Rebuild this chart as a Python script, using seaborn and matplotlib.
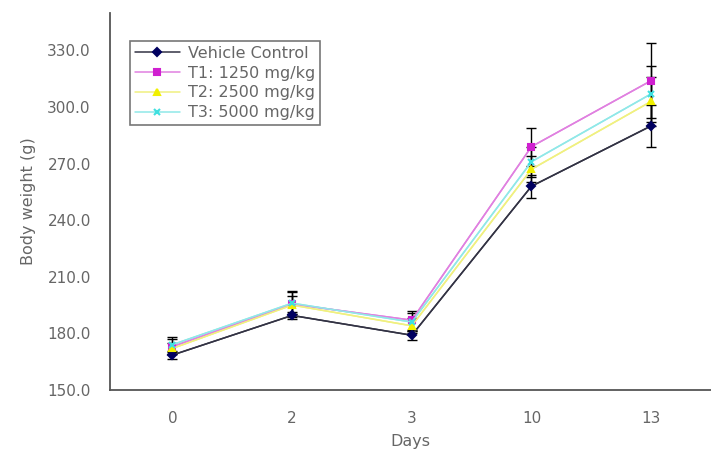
import numpy as np
import pandas as pd
import matplotlib
matplotlib.use("Agg")
import matplotlib.pyplot as plt
import seaborn as sns

# values
days = ["0", "2", "3", "10", "13"]
groups = ["Vehicle Control", "T1: 1250 mg/kg", "T2: 2500 mg/kg", "T3: 5000 mg/kg"]
vehicle = [168.5, 189.5, 179.0, 258.0, 290.0]
t1 = [173.0, 195.5, 187.0, 279.0, 314.0]
t2 = [172.0, 195.0, 184.0, 267.0, 303.0]
t3 = [174.0, 196.0, 186.0, 271.0, 307.0]
vehicle_sd = [2.0, 2.0, 2.5, 6.0, 11.0]
t1_sd = [4.0, 7.0, 5.0, 10.0, 20.0]
t2_sd = [3.0, 5.0, 4.0, 7.0, 13.0]
t3_sd = [4.0, 6.0, 5.0, 8.0, 15.0]

means = [vehicle, t1, t2, t3]
sds = [vehicle_sd, t1_sd, t2_sd, t3_sd]

rows = []
for g, m, s in zip(groups, means, sds):
    for i, d in enumerate(days):
        rows.append({"pos": i, "Days": d, "Group": g, "mean": m[i], "sd": s[i]})
df = pd.DataFrame(rows)

line_cols = {groups[0]: "#333344", groups[1]: "#e080e0", groups[2]: "#f0f080", groups[3]: "#90e8e8"}
mark_cols = {groups[0]: "#000060", groups[1]: "#d020d0", groups[2]: "#f0f000", groups[3]: "#40e0e0"}
markers = {groups[0]: "D", groups[1]: "s", groups[2]: "^", groups[3]: "x"}

sns.set_style("white")
plt.rcParams["font.family"] = ["DejaVu Sans"]

fig = plt.figure(figsize=(7.11, 4.55), dpi=100)
ax = fig.add_axes([0.155, 0.143, 0.845, 0.829])

# error bars first so lines sit on top
for g in groups[::-1]:
    sub = df[df["Group"] == g]
    ax.errorbar(sub["pos"], sub["mean"], yerr=sub["sd"], fmt="none",
                ecolor="black", elinewidth=1, capsize=3.5, zorder=2)

sns.lineplot(data=df, x="pos", y="mean", hue="Group",
             hue_order=groups, palette=line_cols,
             dashes=False, linewidth=1.1, ax=ax, zorder=3, legend=False)
for g in groups:
    sub = df[df["Group"] == g]
    ax.plot(sub["pos"], sub["mean"], color=line_cols[g], lw=1.1, marker=markers[g],
            ms=4.5, mfc=mark_cols[g], mec=mark_cols[g], mew=1.5, label=g, zorder=4)

ax.set_xlim(-0.52, 4.5)
ax.set_ylim(150, 350)
ax.set_yticks(np.arange(150, 331, 30))
ax.set_yticklabels([f"{v:.1f}" for v in np.arange(150, 331, 30)])
ax.set_xticks(range(len(days)))
ax.set_xticklabels(days)
ax.set_xticks(np.arange(0.5, 4, 1), minor=True)
ax.tick_params(axis="x", which="major", length=0, pad=15)
ax.tick_params(axis="x", which="minor", length=4, direction="in", color="#444444")
ax.tick_params(axis="y", length=4, direction="in", color="#444444", pad=14)
ax.tick_params(labelsize=11, labelcolor="#666666")

for side in ["top", "right"]:
    ax.spines[side].set_visible(False)
for side in ["left", "bottom"]:
    ax.spines[side].set_color("#555555")
    ax.spines[side].set_linewidth(1.3)

ax.set_xlabel("Days", fontsize=11.5, color="#666666", labelpad=6)
ax.set_ylabel("Body weight (g)", fontsize=11.5, color="#666666", labelpad=8)

leg = ax.legend(loc="upper left", bbox_to_anchor=(0.033, 0.925), frameon=True,
                fancybox=False, fontsize=11.5, handlelength=2.8, borderpad=0.3,
                labelspacing=0.3, handletextpad=0.5, borderaxespad=0)
leg.get_frame().set_edgecolor("#555555")
leg.get_frame().set_linewidth(1.2)
for t in leg.get_texts():
    t.set_color("#666666")

fig.savefig("out.png", dpi=100)
